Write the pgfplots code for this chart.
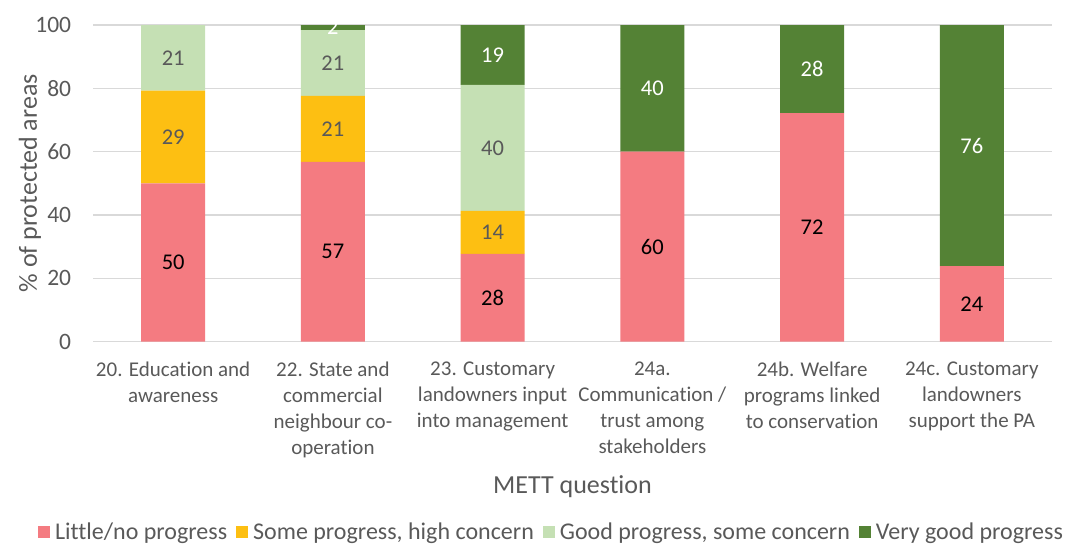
\documentclass[border=0pt]{standalone}
\usepackage{fontspec}
\setmainfont{Carlito}[Ligatures=NoCommon]
\usepackage{pgfplots}
\usepackage{pgfplotstable}
\pgfplotsset{compat=1.18}
\definecolor{cred}{HTML}{F47B81}
\definecolor{cyel}{HTML}{FDBF12}
\definecolor{clgr}{HTML}{C5E0B4}
\definecolor{cdgr}{HTML}{548235}
\definecolor{ctxt}{HTML}{595959}
\definecolor{cgrid}{HTML}{D9D9D9}
\pgfplotstableread{
x y lab
0 50.0 50
1 56.8 57
2 27.7 28
3 60.0 60
4 72.2 72
5 23.9 24
}\little
\pgfplotstableread{
x y lab
0 29.3 29
1 20.8 21
2 13.6 14
3 0 0
4 0 0
5 0 0
}\some
\pgfplotstableread{
x y lab
0 20.7 21
1 20.8 21
2 39.8 40
3 0 0
4 0 0
5 0 0
}\good
\pgfplotstableread{
x y lab
0 0 0
1 1.6 2
2 18.9 19
3 40.0 40
4 27.8 28
5 76.1 76
}\verygood
\begin{document}
\begin{tikzpicture}
\begin{axis}[
  at={(0,0)}, anchor=south west,
  scale only axis, width=958.4pt, height=316.7pt,
  ybar stacked, bar width=64pt,
  xmin=-0.5, xmax=5.5, ymin=0, ymax=100,
  enlargelimits=false,
  xtick={0,...,5},
  xticklabels={{20. Education and\\awareness},
               {22. State and\\commercial\\neighbour co-\\operation},
               {23. Customary\\landowners input\\into management},
               {24a.\\Communication /\\trust among\\stakeholders},
               {24b. Welfare\\programs linked\\to conservation},
               {24c. Customary\\landowners\\support the PA}},
  xticklabel style={align=center, font=\fontsize{21}{26}\selectfont, text=ctxt, inner sep=0pt, anchor=north, yshift=-20pt},
  ytick={0,20,...,100},
  yticklabel style={font=\fontsize{23.5}{28}\selectfont, text=ctxt, inner sep=0pt, anchor=east, xshift=-22pt},
  /pgf/number format/assume math mode=true,
  axis line style={draw=none},
  major tick length=0pt,
  ymajorgrids, grid style={cgrid, line width=1.3pt},
  xlabel={METT question},
  xlabel style={at={(axis description cs:0.5,-0.4575)}, anchor=center, font=\fontsize{26}{30}\selectfont, text=ctxt},
  ylabel={\% of protected areas},
  ylabel style={at={(axis description cs:-0.066,0.5)}, anchor=center, font=\fontsize{26}{30}\selectfont, text=ctxt},
  point meta=explicit symbolic,
  nodes near coords={\ifnum\pgfplotspointmeta=0 \else\pgfplotspointmeta\fi},
  every node near coord/.append style={anchor=center, font=\fontsize{22.5}{27}\selectfont, inner sep=0pt},
  legend columns=4,
  legend style={draw=none, fill=none, at={(0.4786,-0.600)}, anchor=center,
    font=\fontsize{24}{28}\selectfont, text=ctxt,
    /tikz/every even column/.append style={column sep=6pt},
    nodes={inner sep=3pt}},
  legend image code/.code={\fill[#1] (0pt,-6pt) rectangle (12pt,6pt); \path (14pt,0pt);},
]
\addplot[fill=cred, draw=none, every node near coord/.append style={text=black}] table[x=x, y=y, meta=lab] {\little};
\addlegendentry{Little/no progress}
\addplot[fill=cyel, draw=none, every node near coord/.append style={text=ctxt}] table[x=x, y=y, meta=lab] {\some};
\addlegendentry{Some progress, high concern}
\addplot[fill=clgr, draw=none, every node near coord/.append style={text=ctxt}] table[x=x, y=y, meta=lab] {\good};
\addlegendentry{Good progress, some concern}
\addplot[fill=cdgr, draw=none, every node near coord/.append style={text=white}] table[x=x, y=y, meta=lab] {\verygood};
\addlegendentry{Very good progress}
\end{axis}
\pgfresetboundingbox
\path[use as bounding box] (-93.3pt,-202.3pt) rectangle (981.7pt,341.7pt);
\end{tikzpicture}
\end{document}
